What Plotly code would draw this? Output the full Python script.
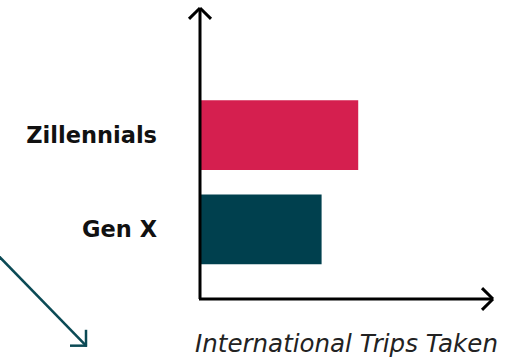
import plotly.graph_objects as go

# Data
categories = ["Gen X", "Zillennials"]
values = [41.5, 54]
bar_colors = ["#00404E", "#D51F4F"]
x_title = "International Trips Taken"

W, H = 513, 359
L, R, T, B = 200, 20, 8, 58
PW, PH = W - L - R, H - T - B

def px(x, y):
    return (x - L) / PW, (H - B - y) / PH

fig = go.Figure(go.Bar(
    y=categories, x=values, orientation="h",
    marker=dict(color=bar_colors, line=dict(width=0)),
    hoverinfo="skip",
))

shapes = []
def seg(p1, p2, color, width):
    x0, y0 = px(*p1)
    x1, y1 = px(*p2)
    shapes.append(dict(type="line", xref="paper", yref="paper",
                       x0=x0, y0=y0, x1=x1, y1=y1,
                       line=dict(color=color, width=width)))

axc = "#000000"
# axes
seg((200, 301), (200, 8), axc, 3)
seg((199, 301), (493, 301), axc, 3)
# arrowheads
seg((189, 19), (200, 8), axc, 3)
seg((211, 19), (200, 8), axc, 3)
seg((482, 290), (493, 301), axc, 3)
seg((482, 312), (493, 301), axc, 3)
# diagonal decorative arrow
dc = "#0B4A55"
seg((-2, 257), (86, 348), dc, 2.5)
seg((70, 348), (87, 348), dc, 2.5)
seg((86, 332), (86, 349), dc, 2.5)

fig.update_layout(
    width=W, height=H,
    margin=dict(l=L, r=R, t=T, b=B, pad=0),
    paper_bgcolor="white", plot_bgcolor="white",
    bargap=0.26,
    showlegend=False,
    shapes=shapes,
    font=dict(family="DejaVu Sans", color="#111111"),
    xaxis=dict(range=[0, 100], showgrid=False, zeroline=False, showline=False,
               showticklabels=False, ticks="",
               title=dict(text=x_title, standoff=35,
                          font=dict(family="DejaVu Sans", size=24.5, style="italic",
                                    weight=200, color="#222222"))),
    yaxis=dict(range=[-0.737, 2.347], showgrid=False, zeroline=False, showline=False,
               ticks="", ticklabelstandoff=42,
               tickfont=dict(family="DejaVu Sans", size=22.5, weight=700, color="#111111")),
)

fig.write_html("out.html")
